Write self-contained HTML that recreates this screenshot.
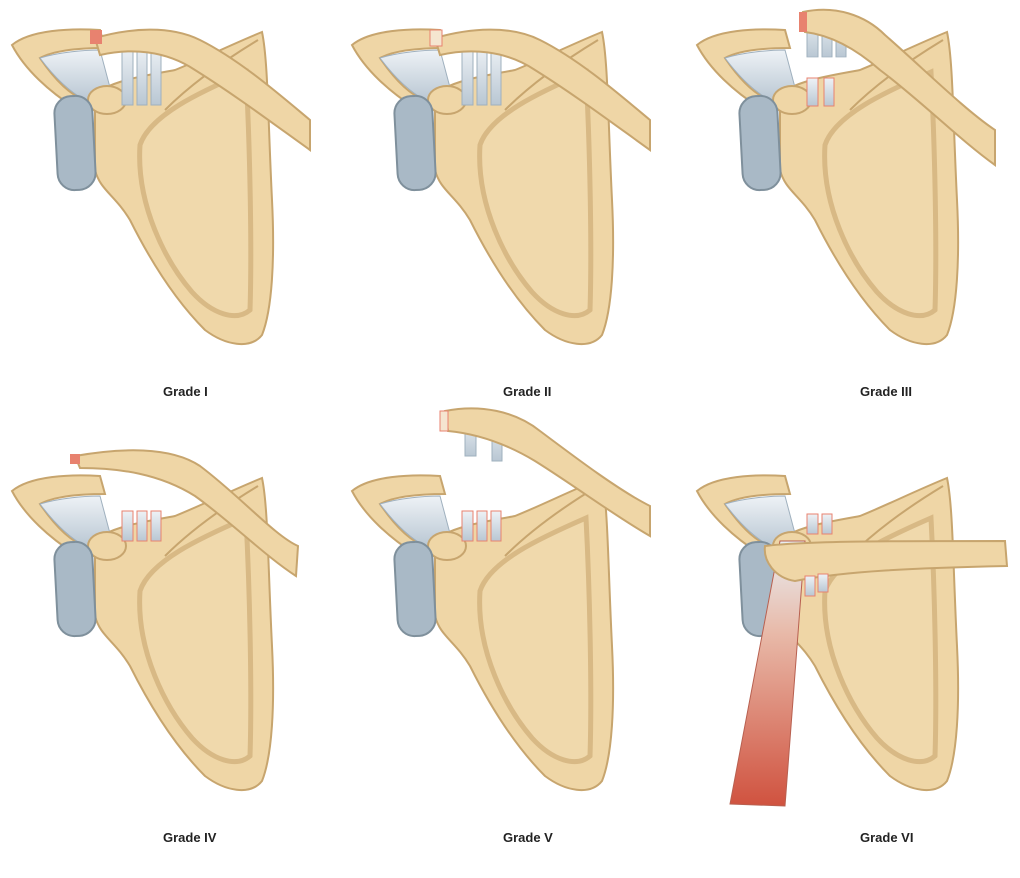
<!DOCTYPE html>
<html><head><meta charset="utf-8">
<style>
html,body{margin:0;padding:0;background:#fff;}
svg{display:block;}
text{font-family:"Liberation Sans",sans-serif;font-weight:bold;font-size:13px;fill:#222;}
</style></head>
<body>
<svg width="1020" height="878" viewBox="0 0 1020 878" xmlns="http://www.w3.org/2000/svg">
<defs>
  <linearGradient id="lig" x1="0" y1="0" x2="0" y2="1">
    <stop offset="0" stop-color="#eef2f6"/><stop offset="1" stop-color="#b9c7d3"/>
  </linearGradient>
  <linearGradient id="mus" x1="0" y1="0" x2="0" y2="1">
    <stop offset="0" stop-color="#e9eef2"/><stop offset="0.35" stop-color="#e8b9a8"/><stop offset="1" stop-color="#d0523f"/>
  </linearGradient>
  <g id="scap">
    <path d="M95,95 C110,80 150,75 175,70 C200,60 230,45 262,32 C268,60 268,120 272,200 C275,260 272,310 262,335 C250,350 225,345 205,330 C175,300 150,260 130,220 C115,195 100,190 95,170 Z" fill="#efd6a6" stroke="#c7a56e" stroke-width="2"/>
    <path d="M140,145 C150,115 200,92 246,72 C250,150 252,250 250,310 C236,322 212,314 192,292 C166,262 136,205 140,145 Z" fill="#f0d9ac" stroke="#d8b985" stroke-width="5"/>
    <path d="M165,110 C190,85 225,60 258,40" fill="none" stroke="#c7a56e" stroke-width="2"/>
    <path d="M12,45 C30,30 70,28 100,30 L105,48 C80,48 55,50 40,58 C55,80 70,95 85,100 L75,108 C50,92 25,70 12,45 Z" fill="#efd6a6" stroke="#c7a56e" stroke-width="2"/>
    <path d="M40,58 C60,52 85,50 100,50 L112,95 C100,100 92,102 85,100 C70,92 55,78 40,58 Z" fill="url(#lig)" stroke="#9fb0be" stroke-width="1"/>
    <ellipse cx="107" cy="100" rx="19" ry="14" fill="#efd6a6" stroke="#c7a56e" stroke-width="2"/>
    <rect x="56" y="96" width="38" height="94" rx="17" fill="#a9b9c6" stroke="#7f909c" stroke-width="2" transform="rotate(-3 75 143)"/>
  </g>
  <g id="ccl">
    <rect x="122" y="0" width="11" height="60" fill="url(#lig)" stroke="#9fb0be"/>
    <rect x="137" y="0" width="10" height="60" fill="url(#lig)" stroke="#9fb0be"/>
    <rect x="151" y="0" width="10" height="60" fill="url(#lig)" stroke="#9fb0be"/>
  </g>
  <path id="clav" d="M95,38 C130,28 170,25 200,40 C240,60 280,95 310,120 L310,150 C275,125 235,95 195,70 C165,50 130,48 100,55 Z" fill="#efd6a6" stroke="#c7a56e" stroke-width="2"/>
</defs>

<g transform="translate(0,0)">
  <use href="#scap"/>
  <use href="#ccl" transform="translate(0,45)"/>
  <use href="#clav"/>
  <rect x="90" y="30" width="12" height="14" fill="#e8826f"/>
</g>
<text x="163" y="396">Grade I</text>

<g transform="translate(340,0)">
  <use href="#scap"/>
  <use href="#ccl" transform="translate(0,45)"/>
  <use href="#clav"/>
  <rect x="90" y="30" width="12" height="16" fill="#f5e5d0" stroke="#e8826f"/>
</g>
<text x="503" y="396">Grade II</text>

<g transform="translate(685,0)">
  <use href="#scap"/>
  <rect x="122" y="78" width="11" height="28" fill="url(#lig)" stroke="#e8826f"/>
  <rect x="139" y="78" width="10" height="28" fill="url(#lig)" stroke="#e8826f"/>
  <use href="#ccl" transform="translate(0,15) scale(1,0.7)"/>
  <path d="M118,12 C150,5 180,15 200,35 C240,70 280,110 310,130 L310,165 C275,140 235,100 195,70 C170,48 145,35 120,32 Z" fill="#efd6a6" stroke="#c7a56e" stroke-width="2"/>
  <rect x="114" y="12" width="8" height="20" fill="#e8826f"/>
</g>
<text x="860" y="396">Grade III</text>

<g transform="translate(0,446)">
  <use href="#scap"/>
  <rect x="122" y="65" width="11" height="30" fill="url(#lig)" stroke="#e8826f"/>
  <rect x="137" y="65" width="10" height="30" fill="url(#lig)" stroke="#e8826f"/>
  <rect x="151" y="65" width="10" height="30" fill="url(#lig)" stroke="#e8826f"/>
  <path d="M75,10 C120,2 170,0 200,20 C240,50 275,90 298,100 L296,130 C265,110 230,75 195,50 C160,28 120,22 80,22 Z" fill="#efd6a6" stroke="#c7a56e" stroke-width="2"/>
  <rect x="70" y="8" width="10" height="10" fill="#e8826f"/>
</g>
<text x="163" y="842">Grade IV</text>

<g transform="translate(340,446)">
  <use href="#scap"/>
  <rect x="122" y="65" width="11" height="30" fill="url(#lig)" stroke="#e8826f"/>
  <rect x="137" y="65" width="10" height="30" fill="url(#lig)" stroke="#e8826f"/>
  <rect x="151" y="65" width="10" height="30" fill="url(#lig)" stroke="#e8826f"/>
  <rect x="125" y="-30" width="11" height="40" fill="url(#lig)" stroke="#9fb0be"/>
  <rect x="152" y="-30" width="10" height="45" fill="url(#lig)" stroke="#9fb0be"/>
  <path d="M105,-35 C140,-42 175,-35 200,-15 C240,15 280,45 310,60 L310,90 C275,70 235,40 195,15 C170,0 140,-12 108,-15 Z" fill="#efd6a6" stroke="#c7a56e" stroke-width="2"/>
  <rect x="100" y="-35" width="8" height="20" fill="#f5e5d0" stroke="#e8826f"/>
</g>
<text x="503" y="842">Grade V</text>

<g transform="translate(685,446)">
  <use href="#scap"/>
  <path d="M95,95 L120,95 L100,360 L45,358 Z" fill="url(#mus)" stroke="#b86050"/>
  <rect x="122" y="68" width="11" height="20" fill="url(#lig)" stroke="#e8826f"/>
  <rect x="137" y="68" width="10" height="20" fill="url(#lig)" stroke="#e8826f"/>
  <path d="M80,100 C120,95 200,95 320,95 L322,120 C230,122 160,125 110,135 C90,132 78,115 80,100 Z" fill="#efd6a6" stroke="#c7a56e" stroke-width="2"/>
  <rect x="120" y="130" width="10" height="20" fill="url(#lig)" stroke="#e8826f"/>
  <rect x="133" y="128" width="10" height="18" fill="url(#lig)" stroke="#e8826f"/>
</g>
<text x="860" y="842">Grade VI</text>
</svg>
</body></html>
